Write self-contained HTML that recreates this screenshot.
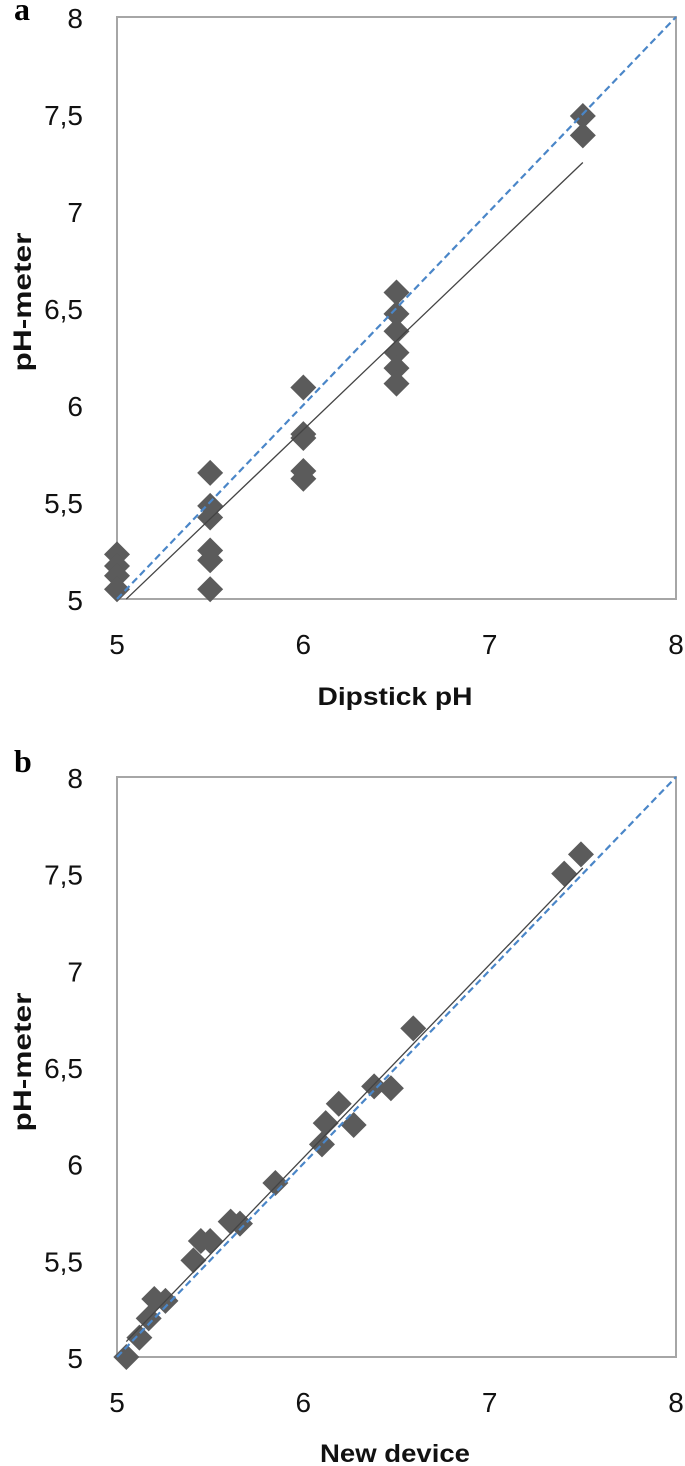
<!DOCTYPE html>
<html><head><meta charset="utf-8">
<style>
html,body{margin:0;padding:0;background:#fff;}
svg{display:block;}
.tick{font-family:"Liberation Sans",sans-serif;font-size:28px;fill:#111;}
.title{font-family:"Liberation Sans",sans-serif;font-size:25px;font-weight:bold;fill:#111;}
.panel{font-family:"Liberation Serif",serif;font-size:32px;font-weight:bold;fill:#000;}
</style></head>
<body>
<svg id="chart" width="685" height="1466" viewBox="0 0 685 1466">
<text class="panel" x="14" y="20">a</text>
<text class="panel" x="14" y="772">b</text>
<text class="title" x="395" y="705" text-anchor="middle" textLength="155" lengthAdjust="spacingAndGlyphs">Dipstick pH</text>
<text class="title" x="395" y="1462" text-anchor="middle" textLength="150" lengthAdjust="spacingAndGlyphs">New device</text>
<text class="title" transform="translate(31,302) rotate(-90)" text-anchor="middle" textLength="139" lengthAdjust="spacingAndGlyphs">pH-meter</text>
<text class="title" transform="translate(31,1062) rotate(-90)" text-anchor="middle" textLength="139" lengthAdjust="spacingAndGlyphs">pH-meter</text>
</svg>
<script>
const xTicks = [5, 6, 7, 8];
const yTicks = [5, 5.5, 6, 6.5, 7, 7.5, 8];
const yTickLabels = ["5", "5,5", "6", "6,5", "7", "7,5", "8"];
const aX = [5,5,5,5, 5.5,5.5,5.5,5.5,5.5,5.5, 6,6,6,6,6, 6.5,6.5,6.5,6.5,6.5,6.5, 7.5,7.5];
const aY = [5.23,5.17,5.12,5.05, 5.65,5.48,5.42,5.25,5.2,5.05, 6.09,5.85,5.83,5.66,5.62, 6.58,6.47,6.38,6.27,6.19,6.11, 7.49,7.39];
const aTrendX = [5.05, 7.5];
const aTrendY = [5.0, 7.25];
const bX = [5.05,5.12,5.17,5.2,5.26,5.41,5.45,5.5,5.61,5.66,5.85,6.1,6.12,6.19,6.27,6.38,6.47,6.59,7.4,7.49];
const bY = [5.0,5.1,5.2,5.3,5.29,5.5,5.6,5.6,5.7,5.69,5.9,6.1,6.21,6.31,6.2,6.4,6.39,6.7,7.5,7.6];
const bTrendX = [5.05, 7.5];
const bTrendY = [5.08, 7.53];
const refLine = [5, 8];

const NS = "http://www.w3.org/2000/svg";
const svg = document.getElementById("chart");
function mk(tag, attrs){const e=document.createElementNS(NS,tag);for(const k in attrs)e.setAttribute(k,attrs[k]);svg.appendChild(e);return e;}

function panel(id, top, bottom, xs, ys, tx, ty){
  const L=117,R=676;
  const sx=v=>L+(v-5)/3*(R-L);
  const sy=v=>bottom-(v-5)/3*(bottom-top);
  const frame=mk("rect",{x:L,y:top,width:R-L,height:bottom-top,fill:"none",stroke:"#a6a6a6","stroke-width":2});
  
  
  yTicks.forEach((v,i)=>{
    const t=mk("text",{x:83,y:sy(v)+11,"text-anchor":"end",class:"tick"});
    t.textContent=yTickLabels[i];
    
    
  });
  xTicks.forEach(v=>{
    const t=mk("text",{x:sx(v),y:bottom+55,"text-anchor":"middle",class:"tick"});
    t.textContent=String(v);
    
    
  });
  xs.forEach((x,i)=>{
    const cx=sx(x),cy=sy(ys[i]),r=13;
    const p=mk("polygon",{points:`${cx},${cy-r} ${cx+r},${cy} ${cx},${cy+r} ${cx-r},${cy}`,fill:"#5b5b5b"});
    
    
  });
  const tl=mk("line",{x1:sx(tx[0]),y1:sy(ty[0]),x2:sx(tx[1]),y2:sy(ty[1]),stroke:"#444","stroke-width":1.3});
  
  
  const rl=mk("line",{x1:sx(refLine[0]),y1:sy(refLine[0]),x2:sx(refLine[1]),y2:sy(refLine[1]),stroke:"#4a86c8","stroke-width":2.2,"stroke-dasharray":"7,4"});
  
  
}
panel("a",17,599,aX,aY,aTrendX,aTrendY);
panel("b",777,1357,bX,bY,bTrendX,bTrendY);
</script>
</body></html>
